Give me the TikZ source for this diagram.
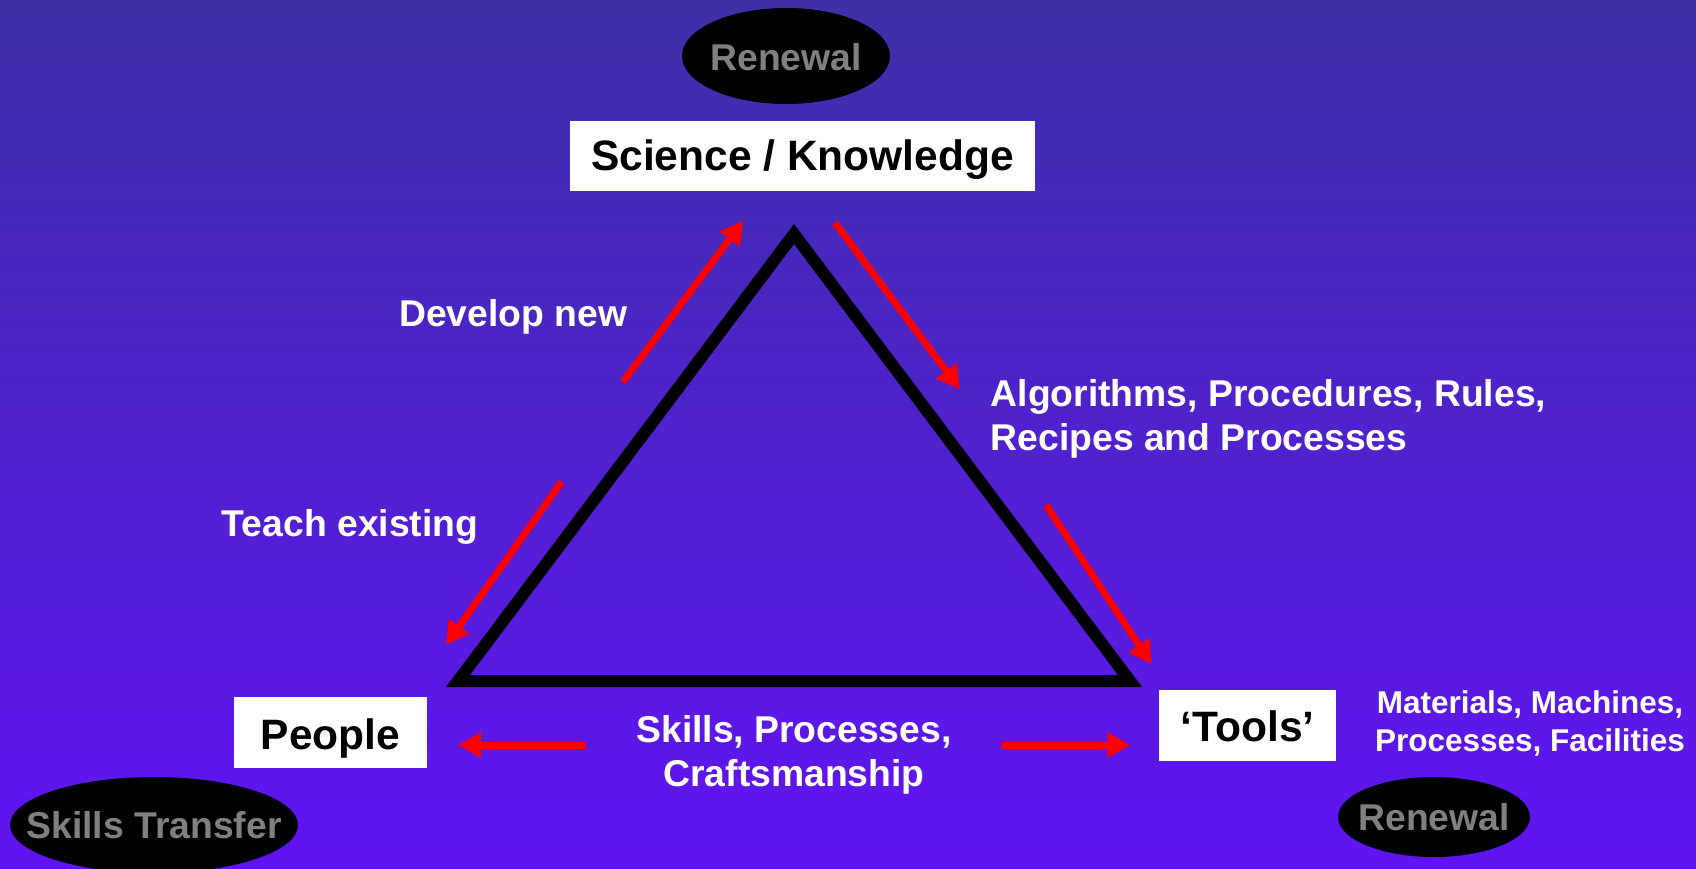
\documentclass[tikz,border=0pt]{standalone}
\usepackage{fontspec}
\setmainfont{Liberation Sans}
\usetikzlibrary{arrows.meta,shapes.geometric}
\definecolor{bgtop}{RGB}{62,48,168}
\definecolor{bgbot}{RGB}{97,19,243}
\definecolor{ellgray}{RGB}{128,128,128}
\newcommand{\lowered}[2]{\makebox[0pt]{\raisebox{-#1pt}[0pt][0pt]{#2}}}
\begin{document}
\begin{tikzpicture}[x=1pt,y=-1pt,
  boxlbl/.style={rectangle, fill=white, inner sep=0pt, text=black,
    font=\fontsize{42.5}{51}\selectfont\bfseries},
  oval/.style={ellipse, fill=black, inner sep=0pt, text=ellgray,
    font=\fontsize{37.3}{44}\selectfont\bfseries},
  wlbl/.style={inner sep=0pt, text=white,
    font=\fontsize{37.3}{44.2}\selectfont\bfseries},
  smalllbl/.style={inner sep=0pt, text=white,
    font=\fontsize{31.5}{38.4}\selectfont\bfseries},
  redarrow/.style={draw=red, line width=7pt, -{Triangle[width=24pt,length=23pt]}},
  tri/.style={draw=black, line width=12pt, line join=miter}]

\useasboundingbox (0,0) rectangle (1696,869);
\shade[top color=bgtop, bottom color=bgbot] (0,0) rectangle (1696,869);

% triangle
\coordinate (apex) at (794,234);
\coordinate (bl) at (458,681);
\coordinate (br) at (1130,681);
\draw[tri] (apex) -- (br) -- (bl) -- cycle;

% boxes
\node[boxlbl, minimum width=465pt, minimum height=70pt] (science) at (802.5,156) {\lowered{15}{Science / Knowledge}};
\node[boxlbl, minimum width=193pt, minimum height=71pt] (people) at (330.5,732.5) {\lowered{16.8}{People}};
\node[boxlbl, minimum width=177pt, minimum height=71pt] (tools) at (1247.5,725.5) {\lowered{16.2}{‘Tools’}};

% ellipses
\node[oval, minimum width=208pt, minimum height=96pt] (renewtop) at (786,56) {\lowered{15}{Renewal}};
\node[oval, minimum width=288pt, minimum height=96pt] (skills) at (154,825) {\lowered{13.3}{Skills Transfer}};
\node[oval, minimum width=192pt, minimum height=80pt] (renewbr) at (1434,817) {\lowered{13.7}{Renewal}};

% labels
\node[wlbl, anchor=base west] (develop) at (399,326.7) {Develop new};
\node[wlbl, anchor=base west] (teach) at (221.7,536) {Teach existing};
\node[wlbl, anchor=base west] (algo) at (990.5,406.7) {\begin{tabular}[t]{@{}l@{}}Algorithms, Procedures, Rules,\\Recipes and Processes\end{tabular}};
\node[wlbl, anchor=base] (craft) at (794,742.7) {\begin{tabular}[t]{@{}c@{}}Skills, Processes,\\Craftsmanship\end{tabular}};
\node[smalllbl, anchor=base] (mat) at (1530,713.3) {\begin{tabular}[t]{@{}c@{}}Materials, Machines,\\Processes, Facilities\end{tabular}};

% arrows
\coordinate (d1) at (623,382);     \coordinate (d2) at (743.3,220.7);
\coordinate (a1) at (835,222.7);   \coordinate (a2) at (960,389.3);
\coordinate (t1) at (561.7,481.7); \coordinate (t2) at (446,645);
\coordinate (r1) at (1046,505);    \coordinate (r2) at (1151.7,664.3);
\coordinate (l1) at (586,745);     \coordinate (l2) at (458,745);
\coordinate (rr1) at (1002,745);   \coordinate (rr2) at (1130.4,745);
\draw[redarrow] (d1) -- (d2);
\draw[redarrow] (a1) -- (a2);
\draw[redarrow] (t1) -- (t2);
\draw[redarrow] (r1) -- (r2);
\draw[redarrow] (l1) -- (l2);
\draw[redarrow] (rr1) -- (rr2);
\end{tikzpicture}
\end{document}
